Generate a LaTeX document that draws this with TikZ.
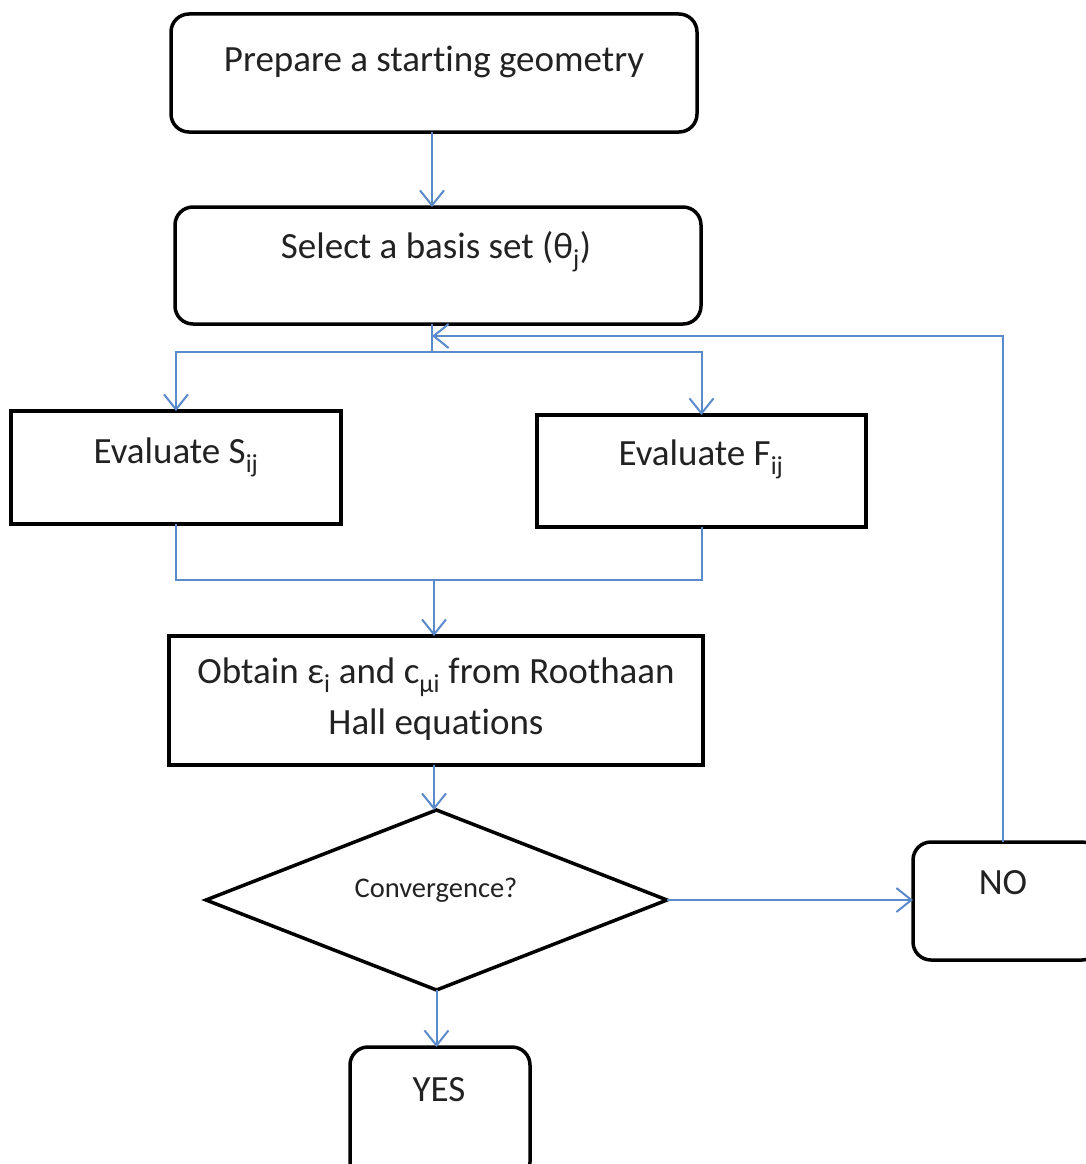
\documentclass[tikz,border=0pt]{standalone}
\usepackage{fontspec}
\setmainfont{Carlito}[Ligatures=NoCommon]
\usetikzlibrary{arrows.meta,shapes.geometric}
\definecolor{conn}{HTML}{5B8ACB}
\definecolor{ink}{HTML}{222222}
\begin{document}
\begin{tikzpicture}[x=1pt,y=-1pt,
  box/.style={draw=black,line width=3.5pt,inner sep=0pt,outer sep=0pt,fill=white},
  rbox/.style={box,rounded corners=18pt},
  txt/.style={font=\fontsize{37pt}{51pt}\selectfont,text=ink,anchor=base,inner sep=0pt,align=center},
  smalltxt/.style={font=\fontsize{28.5pt}{34pt}\selectfont,text=ink,anchor=base,inner sep=0pt},
  link/.style={draw=conn,line width=2pt},
  arr/.style={link,-{Straight Barb[length=15pt,width=24pt,line width=2pt]}}]
\useasboundingbox (0,0) rectangle (1086,1164);
\clip (0,0) rectangle (1086,1164);
% boxes
\node[rbox,minimum width=526pt,minimum height=118pt] (B1) at (434,73) {};
\node[rbox,minimum width=526pt,minimum height=117pt] (B2) at (438,265.5) {};
\node[box,minimum width=330pt,minimum height=113pt] (S) at (176,467.5) {};
\node[box,minimum width=329pt,minimum height=112pt] (F) at (701.5,471) {};
\node[box,minimum width=534pt,minimum height=129pt] (Ob) at (436,700.5) {};
\node[diamond,draw=black,line width=3.5pt,inner sep=0pt,outer sep=0pt,minimum width=461pt,minimum height=180pt,shape aspect=2.56] (D) at (436.5,900) {};
\node[rbox,minimum width=187pt,minimum height=118pt] (NO) at (1006.5,901) {};
\node[rbox,minimum width=180pt,minimum height=133pt] (YES) at (440,1113.5) {};
% texts
\node[txt] (t1) at (434,71) {Prepare a starting geometry};
\node[txt] (t2) at (436,258) {Select a basis set (θ\textsubscript{j})};
\node[txt] (t3) at (176,463) {Evaluate S\textsubscript{ij}};
\node[txt] (t4) at (701,465) {Evaluate F\textsubscript{ij}};
\node[txt] (t5) at (436,734) {Obtain ε\textsubscript{i} and c\textsubscript{μi} from Roothaan\\Hall equations};
\node[smalltxt] (t6) at (436,897) {Convergence?};
\node[txt] (t7) at (1003,894) {NO};
\node[txt] (t8) at (439,1101) {YES};
% junctions
\coordinate (j1) at (432,352);
\coordinate (loopend) at (432,336);
\coordinate (j2) at (434,580);
% connectors
\draw[arr] (B1.south -| j1) -- (B2.north -| j1);
\draw[link] (B2.south -| j1) -- (j1);
\draw[arr] (j1) -| (S.north);
\draw[arr] (j1) -| (F.north);
\draw[arr] (NO.north -| 1003,0) |- (loopend);
\draw[link] (S.south) |- (j2);
\draw[link] (F.south) |- (j2);
\draw[arr] (j2) -- (Ob.north -| j2);
\draw[arr] (Ob.south -| j2) -- (D.north -| j2);
\draw[arr] (D.east) -- (NO.west |- D.east);
\draw[arr] (D.south) -- (YES.north -| D.south);
\end{tikzpicture}
\end{document}
